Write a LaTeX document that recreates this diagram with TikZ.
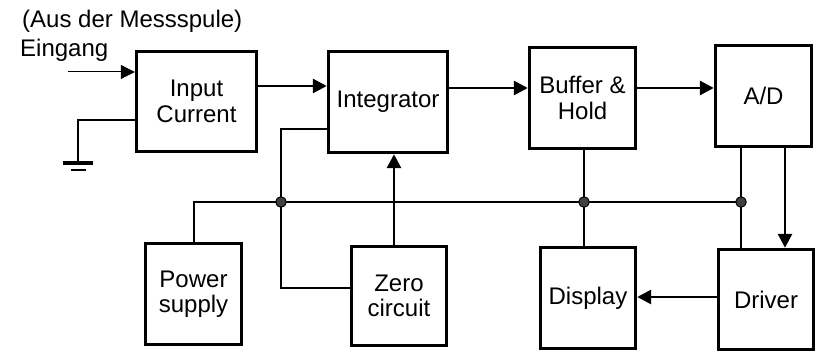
\documentclass[tikz,border=0pt]{standalone}
\usepackage{fontspec}
\setmainfont{Liberation Sans}
\usetikzlibrary{arrows.meta,positioning,calc}
\tikzset{
  blk/.style={draw, line width=3.4pt, align=center, inner sep=0pt, font=\fontsize{24}{25.5}\selectfont},
  arr/.style={-{Triangle[length=14pt,width=14pt]}, line width=2.8pt},
  wire/.style={line width=2pt},
  jn/.style={circle, draw, line width=1pt, fill=black!75, inner sep=0pt, minimum size=10.5pt},
  lbl/.style={inner sep=0pt, anchor=base west, font=\fontsize{24}{25.5}\selectfont},
}

\begin{document}
\begin{tikzpicture}[x=1pt, y=-1pt]
  \useasboundingbox (0,0) rectangle (816,352);
  % top row
  \node[blk, minimum width=120pt, minimum height=100pt] (inp) at (196.5,101.5) {Input\\Current};
  \node[blk, minimum width=119pt, minimum height=101pt] (integ) at (388,102) {Integrator};
  \node[blk, minimum width=106pt, minimum height=101pt] (buf) at (582.5,98) {Buffer \&\\Hold};
  \node[blk, minimum width=96pt, minimum height=101pt] (adc) at (763.5,96) {A/D};
  % bottom row
  \node[blk, minimum width=96pt, minimum height=101pt] (power) at (193.5,294) {Power\\supply};
  \node[blk, minimum width=95pt, minimum height=99pt] (zero) at (399,296) {Zero\\circuit};
  \node[blk, minimum width=95pt, minimum height=101pt] (disp) at (588,298) {Display};
  \node[blk, minimum width=95pt, minimum height=100pt] (drv) at (766,299.5) {Driver};
  % labels
  \node[lbl] (spule) at (22,28) {(Aus der Messspule)};
  \node[lbl] (eingang) at (20,57) {Eingang};
  % junctions and free ends
  \coordinate (bj1) at (281,202);
  \coordinate (bj2) at (584,202);
  \coordinate (bj3) at (741,202);
  \coordinate (in) at (68,72);
  \coordinate (gnd) at (78,163);
  % input and ground
  \draw[arr, line width=1pt] (in) -- (in -| inp.west);
  \coordinate (gtop) at ([yshift=-18.5pt]inp.west);
  \draw[wire] (gtop) -| (gnd);
  \draw[line width=3.4pt] ([xshift=-15pt]gnd) -- ([xshift=15pt]gnd);
  \draw[line width=2.4pt] ([xshift=-7.5pt,yshift=-7pt]gnd) -- ([xshift=7.5pt,yshift=-7pt]gnd);
  % signal path
  \coordinate (a1) at ([yshift=15.5pt]inp.east);
  \draw[arr] (a1) -- (a1 -| integ.west);
  \coordinate (a2) at ([yshift=14pt]integ.east);
  \draw[arr] (a2) -- (a2 -| buf.west);
  \coordinate (a3) at ([yshift=10pt]buf.east);
  \draw[arr] (a3) -- (a3 -| adc.west);
  \coordinate (ad) at ([xshift=21.5pt]adc.south);
  \draw[arr] (ad) -- (ad |- drv.north);
  \coordinate (a4) at ([yshift=2.5pt]drv.west);
  \draw[arr] (a4) -- (a4 -| disp.east);
  \coordinate (zt) at ([xshift=-5pt]zero.north);
  \draw[arr] (zt) -- (zt |- integ.south);
  % supply bus
  \draw[wire] (power.north) |- (bj3);
  \draw[wire] ([yshift=-27pt]integ.west) -| (bj1) |- ([yshift=8pt]zero.west);
  \draw[wire] (bj2 |- buf.south) -- (bj2 |- disp.north);
  \draw[wire] (bj3 |- adc.south) -- (bj3 |- drv.north);
  \node[jn] (j1) at (bj1) {};
  \node[jn] (j2) at (bj2) {};
  \node[jn] (j3) at (bj3) {};
\end{tikzpicture}
\end{document}
